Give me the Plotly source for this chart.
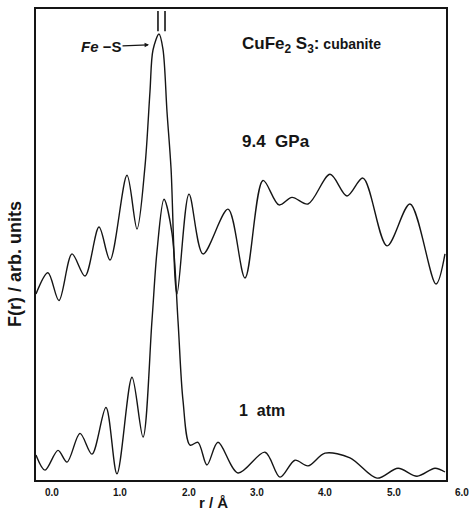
import plotly.graph_objects as go

# ---- data (r in Å, F(r) in arbitrary units) ----
r_94gpa = [-0.234, -0.059, 0.102, 0.293, 0.483, 0.688, 0.849, 1.098, 1.244, 1.361, 1.434, 1.478,
           1.566, 1.624, 1.683, 1.742, 1.829, 2.005, 2.210, 2.576, 2.825, 3.088, 3.322, 3.512,
           3.747, 4.069, 4.317, 4.551, 4.903, 5.239, 5.620, 5.751]
F_94gpa = [39.5, 44.0, 38.1, 48.0, 43.3, 53.7, 46.7, 64.7, 53.3, 66.6, 82.5, 91.3,
           94.7, 91.5, 78.2, 66.2, 39.5, 60.7, 48.0, 57.5, 42.9, 63.6, 58.4, 60.0,
           58.6, 64.9, 60.3, 64.1, 49.7, 58.6, 41.6, 48.0]

r_1atm = [-0.234, -0.102, 0.088, 0.220, 0.410, 0.585, 0.790, 0.951, 1.171, 1.332, 1.463, 1.537,
          1.639, 1.756, 1.844, 1.917, 2.020, 2.137, 2.268, 2.429, 2.722, 3.117, 3.337, 3.556,
          3.747, 3.995, 4.361, 4.756, 5.064, 5.342, 5.605, 5.751]
F_1atm = [5.3, 2.1, 6.3, 3.8, 9.9, 5.5, 15.4, 1.3, 21.8, 9.1, 33.8, 48.6,
          59.6, 52.4, 33.8, 16.9, 7.4, 8.0, 3.2, 8.0, 1.5, 5.9, 0.6, 4.2,
          3.0, 5.7, 4.7, 0.4, 2.5, 0.8, 2.5, 1.7]

tick_vals = [0, 1, 2, 3, 4, 5, 6]
tick_text = ["0.0", "1.0", "2.0", "3.0", "4.0", "5.0", "6.0"]
peak_marks = [1.551, 1.654]

x_range = [-0.234, 5.766]
y_range = [0, 100]

FONT = "Liberation Sans, Arial, sans-serif"
INK = "#151515"

fig = go.Figure()
for r, F in [(r_94gpa, F_94gpa), (r_1atm, F_1atm)]:
    fig.add_trace(go.Scatter(x=r, y=F, mode="lines",
                             line=dict(color=INK, width=1.4, shape="spline", smoothing=0.9),
                             showlegend=False, hoverinfo="skip"))

# peak position markers "||"
for pm in peak_marks:
    fig.add_shape(type="line", xref="x", yref="y", x0=pm, x1=pm, y0=95.3, y1=99.6,
                  line=dict(color=INK, width=1.6))

annotations = []
# tick labels (axis range ends before 6.0, so 6.0 placed via axis scale fraction)
for v, t in zip(tick_vals, tick_text):
    frac = (v - x_range[0]) / (x_range[1] - x_range[0])
    annotations.append(dict(x=frac, y=-0.011, xref="paper", yref="paper", text="<b>" + t + "</b>",
                            showarrow=False, xanchor="center", yanchor="top",
                            font=dict(family=FONT, size=10, color=INK)))

annotations += [
    dict(x=1.42, y=92.4, xref="x", yref="y", text="<b><i>Fe</i> \u2212S</b>",
         showarrow=True, arrowhead=2, arrowsize=0.8, arrowwidth=1.1, arrowcolor=INK,
         ax=-48, ay=2, font=dict(family=FONT, size=15, color=INK)),
    dict(x=3.80, y=92.4, xref="x", yref="y",
         text="<b>CuFe<sub>2</sub> S<sub>3</sub>:</b><b><span style='font-size:14px'> cubanite</span></b>",
         showarrow=False, font=dict(family=FONT, size=17, color=INK)),
    dict(x=3.28, y=71.9, xref="x", yref="y", text="<b>9.4  GPa</b>",
         showarrow=False, font=dict(family=FONT, size=17, color=INK)),
    dict(x=3.07, y=14.8, xref="x", yref="y", text="<b>1  atm</b>",
         showarrow=False, font=dict(family=FONT, size=16, color=INK)),
    dict(x=0.434, y=-0.047, xref="paper", yref="paper", text="<b>r / Å</b>",
         showarrow=False, xanchor="center", yanchor="middle",
         font=dict(family=FONT, size=15, color=INK)),
    dict(x=-0.051, y=0.459, xref="paper", yref="paper", text="<b>F(r) / arb. units</b>",
         textangle=-90, showarrow=False, xanchor="center", yanchor="middle",
         font=dict(family=FONT, size=18, color=INK)),
]

fig.update_layout(
    width=475, height=510,
    margin=dict(l=36, r=29, t=7, b=30),
    paper_bgcolor="white", plot_bgcolor="white",
    annotations=annotations,
    xaxis=dict(range=x_range, showgrid=False, zeroline=False, showticklabels=False,
               showline=True, mirror=True, linecolor=INK, linewidth=1.5, ticks=""),
    yaxis=dict(range=y_range, showgrid=False, zeroline=False, showticklabels=False,
               showline=True, mirror=True, linecolor=INK, linewidth=1.5, ticks=""),
)

fig.write_html("out.html", config={"displayModeBar": False},
               post_script="document.body.style.margin='0';")
